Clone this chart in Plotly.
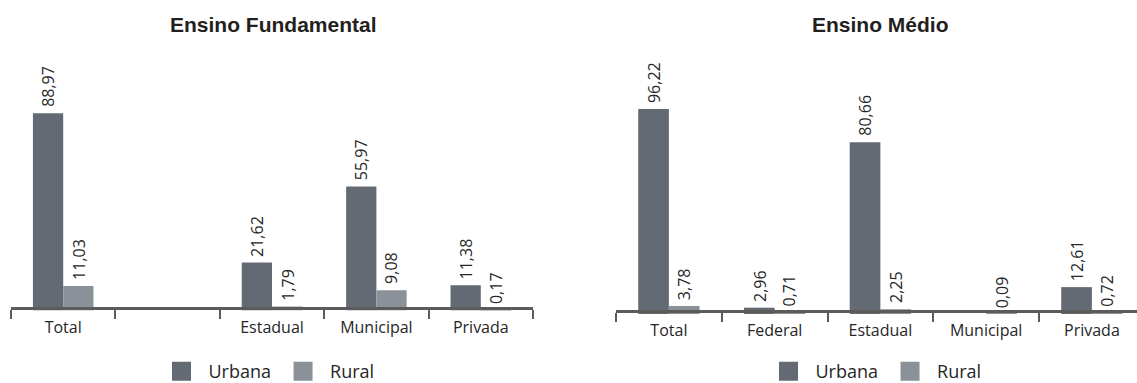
import plotly.graph_objects as go

# --- data -----------------------------------------------------------------
series_nomes = ["Urbana", "Rural"]
titulos = ["Ensino Fundamental", "Ensino Médio"]

# Ensino Fundamental (the second slot is an empty category)
fund_categorias = ["Total", " ", "Estadual", "Municipal", "Privada"]
fund_urbana = [88.97, None, 21.62, 55.97, 11.38]
fund_rural = [11.03, None, 1.79, 9.08, 0.17]

# Ensino Médio
medio_categorias = ["Total", "Federal", "Estadual", "Municipal", "Privada"]
medio_urbana = [96.22, 2.96, 80.66, None, 12.61]
medio_rural = [3.78, 0.71, 2.25, 0.09, 0.72]

# --- styling --------------------------------------------------------------
W, H = 1137, 383
COR_URBANA = "#646a73"
COR_RURAL = "#8b9199"
COR_EIXO = "#5b5b5b"
COR_TEXTO = "#262626"
FONTE = "Open Sans"
FONTE_TITULO = "Liberation Sans"
BARGAP = 0.42
LINHA_EIXO = 3


def fx(px):
    return px / W


def fy(px):
    return 1 - px / H


# panel geometry in pixels: plot left/right, category width, zero line,
# pixels per unit, title centre, legend centre
paineis = [
    dict(cats=fund_categorias, urb=fund_urbana, rur=fund_rural,
         left=11, right=533, cat_w=104.4, zero=310.5, k=2.2165,
         centro=273.5, leg_x=267, xa="x", ya="y", leg="legend"),
    dict(cats=medio_categorias, urb=medio_urbana, rur=medio_rural,
         left=616, right=1137, cat_w=105.75, zero=314.0, k=2.1305,
         centro=880.5, leg_x=874, xa="x2", ya="y2", leg="legend2"),
]
TOPO = 60

fig = go.Figure()
layout_axes = {}
rotulos = []
meia_barra = (1 - BARGAP) / 4  # centre offset of each bar inside its group

for i, p in enumerate(paineis):
    series = ((series_nomes[0], p["urb"], COR_URBANA, -meia_barra),
              (series_nomes[1], p["rur"], COR_RURAL, +meia_barra))
    for nome, vals, cor, desloc in series:
        fig.add_trace(go.Bar(
            x=p["cats"], y=vals, name=nome,
            marker=dict(color=cor, line=dict(width=0)),
            cliponaxis=False, xaxis=p["xa"], yaxis=p["ya"],
            showlegend=False, hoverinfo="skip",
        ))
        # legend entry with a larger square swatch
        fig.add_trace(go.Scatter(
            x=[None], y=[None], mode="markers", name=nome,
            marker=dict(symbol="square", size=16, color=cor,
                        line=dict(color=cor, width=3)),
            xaxis=p["xa"], yaxis=p["ya"], legend=p["leg"], showlegend=True,
        ))
        # value labels above each bar, read bottom-to-top
        for j, v in enumerate(vals):
            if v is None:
                continue
            rotulos.append(dict(
                x=j + desloc, y=v, xref=p["xa"], yref=p["ya"],
                text=f"{v:.2f}".replace(".", ","), textangle=-90,
                xanchor="center", yanchor="bottom", yshift=5,
                showarrow=False, borderpad=0,
                font=dict(family=FONTE, size=16, color=COR_TEXTO),
            ))

    x_end = -0.5 + (p["right"] - p["left"]) / p["cat_w"]
    y_hi = (p["zero"] - TOPO) / p["k"]
    suf = "" if i == 0 else str(i + 1)
    layout_axes["xaxis" + suf] = dict(
        domain=[fx(p["left"]), fx(p["right"])],
        type="category", categoryorder="array", categoryarray=p["cats"],
        range=[-0.5, x_end], anchor="free", automargin=False,
        position=fy(p["zero"] - LINHA_EIXO),
        showline=True, linecolor=COR_EIXO, linewidth=LINHA_EIXO,
        ticks="outside", tickson="boundaries", ticklen=9, tickwidth=2,
        tickcolor=COR_EIXO, showgrid=False, zeroline=False,
        ticklabelstandoff=4,
        tickfont=dict(family=FONTE, size=16, color=COR_TEXTO),
    )
    layout_axes["yaxis" + suf] = dict(
        domain=[fy(p["zero"]), fy(TOPO)], range=[0, y_hi],
        anchor=p["xa"], visible=False, automargin=False,
    )

legenda = dict(orientation="h", xanchor="center", yanchor="middle",
               xref="container", yref="container", y=fy(371.5),
               font=dict(family=FONTE, size=18, color=COR_TEXTO),
               bgcolor="rgba(0,0,0,0)", itemsizing="trace", itemwidth=44,
               itemclick=False, itemdoubleclick=False)

titulos_ann = [
    dict(text="<b>%s</b>" % t, x=fx(p["centro"]), y=fy(25),
         xref="paper", yref="paper", xanchor="center", yanchor="middle",
         showarrow=False,
         font=dict(family=FONTE_TITULO, size=21, color="#231f20"))
    for t, p in zip(titulos, paineis)
]

fig.update_layout(
    template="none",
    width=W, height=H,
    margin=dict(l=0, r=0, t=0, b=0, autoexpand=False),
    paper_bgcolor="white", plot_bgcolor="white",
    font=dict(family=FONTE, color=COR_TEXTO),
    barmode="group", bargap=BARGAP, bargroupgap=0,
    showlegend=True,
    legend=dict(legenda, x=fx(paineis[0]["leg_x"])),
    legend2=dict(legenda, x=fx(paineis[1]["leg_x"])),
    annotations=titulos_ann + rotulos,
    **layout_axes,
)

fig.write_html("out.html", config={"displayModeBar": False})
